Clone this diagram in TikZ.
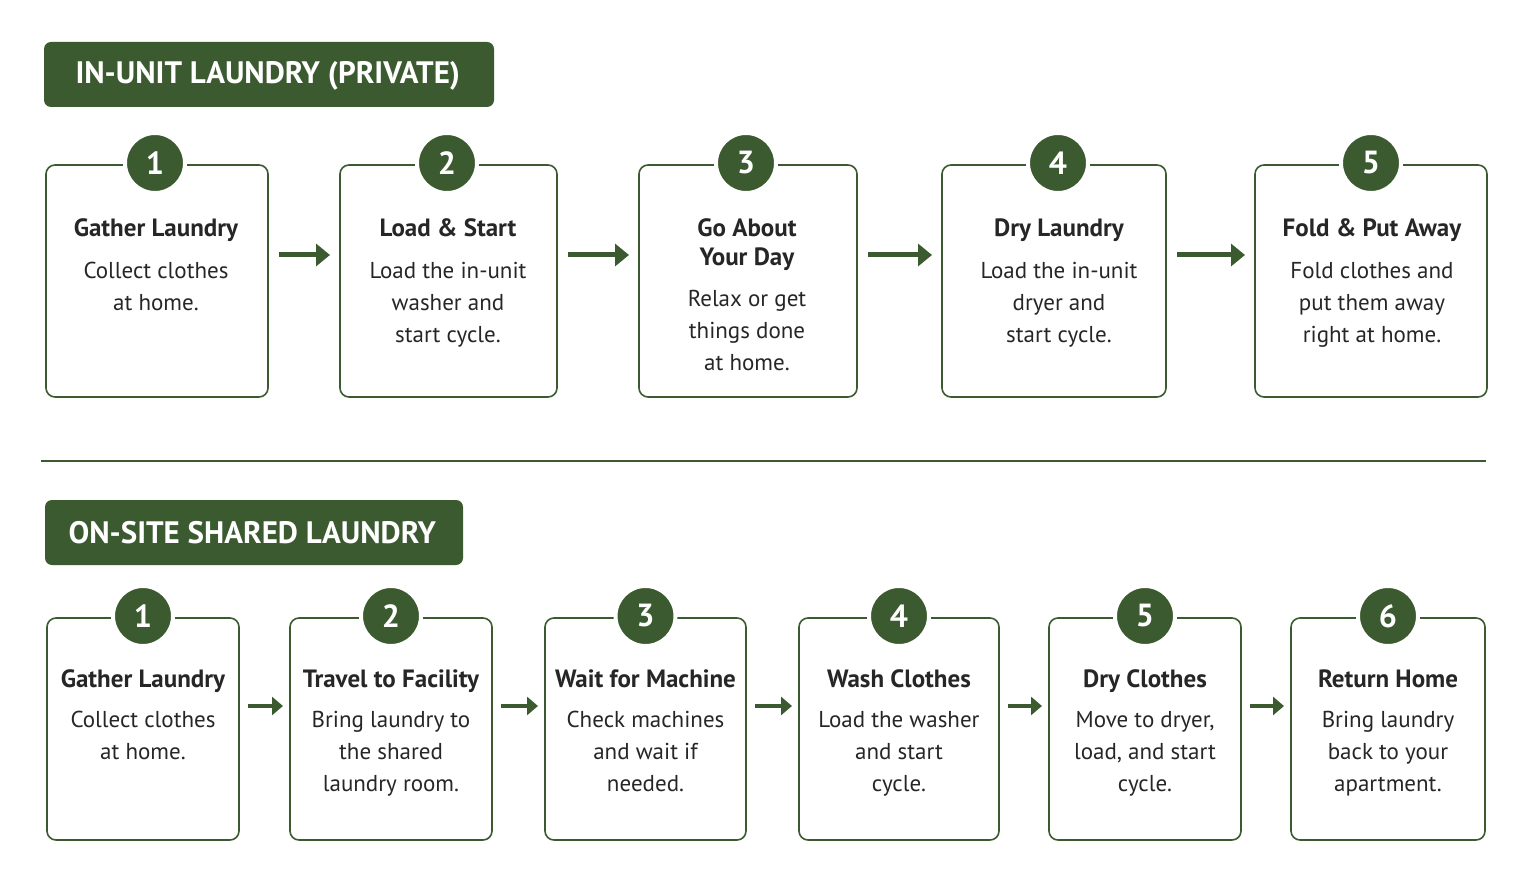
\documentclass[tikz,border=0pt]{standalone}
\usepackage{fontspec}
\setmainfont{PT Sans}
\usetikzlibrary{arrows.meta}
\definecolor{dg}{HTML}{3B5A30}
\begin{document}
\begin{tikzpicture}[x=1pt,y=-1pt,
 box/.style={draw=dg,line width=1.6pt,rounded corners=9pt},
 badge/.style={circle,fill=dg,draw=white,line width=4pt,minimum size=60pt,text=white,font=\fontsize{32}{32}\selectfont\bfseries,inner sep=0},
 ttl/.style={font=\fontsize{25}{29}\selectfont\bfseries,align=center,text=black!85,anchor=north},
 bod/.style={font=\fontsize{23}{32}\selectfont,align=center,text=black!85,anchor=north},
 arr/.style={-{Triangle[length=14pt,width=22pt]},line width=5pt,draw=dg},
 hd/.style={text=white,font=\fontsize{31}{34}\selectfont\bfseries,anchor=west}]
\useasboundingbox (0,0) rectangle (1531,885);
\fill[dg,rounded corners=7pt] (44,42) rectangle (494,107);
\node[hd] (h1) at (72,76) {IN-UNIT LAUNDRY (PRIVATE)};
\draw[dg,line width=1.6pt] (41,461) -- (1486,461);
\fill[dg,rounded corners=7pt] (45,500) rectangle (463,565);
\node[hd] (h2) at (65,533) {ON-SITE SHARED LAUNDRY};
\foreach \i/\a/\b/\c/\t/\y/\s in {
 1/46/268/155/{Gather Laundry}/272/{Collect clothes\\at home.},
 2/340/557/447/{Load \& Start}/272/{Load the in-unit\\washer and\\start cycle.},
 3/639/857/746/{Go About\\Your Day}/300/{Relax or get\\things done\\at home.},
 4/942/1166/1058/{Dry Laundry}/272/{Load the in-unit\\dryer and\\start cycle.},
 5/1255/1487/1371/{Fold \& Put Away}/272/{Fold clothes and\\put them away\\right at home.}}{
 \draw[box] (\a,165) rectangle (\b,397);
 \node[coordinate] (tb\i) at (\b,255) {};
 \node[coordinate] (ta\i) at (\a,255) {};
 \node[badge] (tn\i) at (\c,163) {\i};
 \node[ttl] (tt\i) at (\c+1,215) {\t};
 \node[bod] (tx\i) at (\c+1,\y-13) {\s};
}
\foreach \i/\j in {1/2,2/3,3/4,4/5}{\draw[arr] ([xshift=11pt]tb\i) -- ([xshift=-10pt]ta\j);}
\foreach \i/\a/\b/\t/\s in {
 1/47/239/{Gather Laundry}/{Collect clothes\\at home.},
 2/290/492/{Travel to Facility}/{Bring laundry to\\the shared\\laundry room.},
 3/545/746/{Wait for Machine}/{Check machines\\and wait if\\needed.},
 4/799/999/{Wash Clothes}/{Load the washer\\and start\\cycle.},
 5/1049/1241/{Dry Clothes}/{Move to dryer,\\load, and start\\cycle.},
 6/1291/1485/{Return Home}/{Bring laundry\\back to your\\apartment.}}{
 \draw[box] (\a,618) rectangle (\b,840);
 \node[coordinate] (bb\i) at (\b,706) {};
 \node[coordinate] (ba\i) at (\a,706) {};
 \node[badge] (bn\i) at ({(\a+\b)/2},616) {\i};
 \node[ttl] (bt\i) at ({(\a+\b)/2},666) {\t};
 \node[bod] (bx\i) at ({(\a+\b)/2},708) {\s};
}
\foreach \i/\j in {1/2,2/3,3/4,4/5,5/6}{\draw[arr,line width=4pt,-{Triangle[length=11pt,width=18pt]}] ([xshift=9pt]bb\i) -- ([xshift=-7pt]ba\j);}
\end{tikzpicture}
\end{document}
